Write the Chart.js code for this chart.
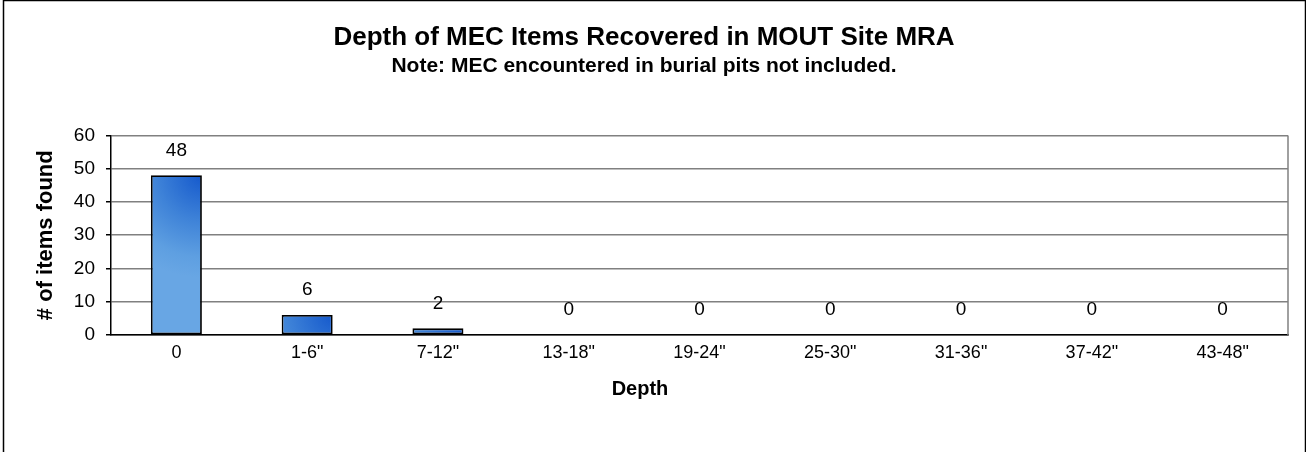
<!DOCTYPE html>
<html>
<head>
<meta charset="utf-8">
<style>
  html, body { margin: 0; padding: 0; background: #fff; }
  #wrap { position: relative; width: 1306px; height: 452px; }
</style>
</head>
<body>
<div id="wrap">
  <canvas id="myChart"></canvas>
</div>

<script src="https://cdn.jsdelivr.net/npm/chart.js"></script>
<script>
const depthLabels = ['0', '1-6"', '7-12"', '13-18"', '19-24"', '25-30"', '31-36"', '37-42"', '43-48"'];
const itemsFound = [48, 6, 2, 0, 0, 0, 0, 0, 0];
const yTicks = [0, 10, 20, 30, 40, 50, 60];

const ctx = document.getElementById('myChart');
const FONT = 'Arial, "Liberation Sans", sans-serif';
const BAR_PCT = 0.39;

// bar fill: dark blue in the upper right corner fading to light blue
function barFill(context) {
  const chart = context.chart;
  const xs = chart.scales.x;
  const ys = chart.scales.y;
  if (!chart.chartArea || !xs || !ys || context.dataIndex == null) return '#5a9be0';
  const cx = xs.getPixelForValue(context.dataIndex);
  const w = xs.width / depthLabels.length * BAR_PCT;
  const top = ys.getPixelForValue(itemsFound[context.dataIndex]);
  const g = chart.ctx.createRadialGradient(cx + w / 2, top, 0, cx + w / 2, top, w * 2);
  g.addColorStop(0, '#1559cc');
  g.addColorStop(0.45, '#3f83d8');
  g.addColorStop(0.8, '#5e9fe1');
  g.addColorStop(1, '#68a6e4');
  return g;
}

// value labels, x axis title, plot frame and outer frame
const extras = {
  id: 'extras',
  beforeDraw(chart) {
    const c = chart.ctx;
    c.save();
    c.fillStyle = '#fff';
    c.fillRect(0, 0, chart.width, chart.height);
    c.restore();
  },
  afterDatasetsDraw(chart) {
    const c = chart.ctx;
    const meta = chart.getDatasetMeta(0);
    c.save();
    c.font = '19px ' + FONT;
    c.fillStyle = '#000';
    c.textAlign = 'center';
    c.textBaseline = 'middle';
    meta.data.forEach((bar, i) => {
      c.fillText(String(itemsFound[i]), bar.x, bar.y - 25);
    });
    c.restore();
  },
  afterDraw(chart) {
    const c = chart.ctx;
    const a = chart.chartArea;
    c.save();
    c.font = 'bold 20px ' + FONT;
    c.fillStyle = '#000';
    c.textAlign = 'center';
    c.textBaseline = 'middle';
    c.fillText('Depth', 640, 389);

    c.strokeStyle = '#808080';
    c.lineWidth = 1.5;
    c.beginPath();
    c.moveTo(a.right, a.top);
    c.lineTo(a.right, a.bottom);
    c.stroke();
    c.strokeStyle = '#000';
    c.lineWidth = 1.5;
    c.beginPath();
    c.moveTo(3.5, chart.height + 2);
    c.lineTo(3.5, 0.5);
    c.lineTo(chart.width - 0.5, 0.5);
    c.lineTo(chart.width - 0.5, chart.height + 2);
    c.stroke();
    c.restore();
  }
};

new Chart(ctx, {
  type: 'bar',
  data: {
    labels: depthLabels,
    datasets: [{
      label: '# of items found',
      data: itemsFound,
      backgroundColor: barFill,
      borderColor: '#000',
      borderWidth: 1.8,
      borderSkipped: false,
      barPercentage: BAR_PCT,
      categoryPercentage: 1
    }]
  },
  options: {
    responsive: true,
    maintainAspectRatio: false,
    animation: false,
    layout: { padding: { left: 0, right: 18, top: 0, bottom: 0 } },
    plugins: {
      legend: { display: false },
      tooltip: { enabled: false },
      title: {
        display: true,
        text: 'Depth of MEC Items Recovered in MOUT Site MRA',
        color: '#000',
        font: { family: FONT, size: 26, weight: 'bold' },
        padding: { top: 22, bottom: 0 }
      },
      subtitle: {
        display: true,
        text: 'Note: MEC encountered in burial pits not included.',
        color: '#000',
        font: { family: FONT, size: 21, weight: 'bold' },
        padding: { top: 0, bottom: 57 }
      }
    },
    scales: {
      x: {
        grid: { display: false, drawTicks: false },
        border: { display: true, color: '#000', width: 1.5 },
        ticks: { color: '#000', font: { family: FONT, size: 18 }, padding: 7, maxRotation: 0, autoSkip: false },
        afterFit(scale) { scale.height = 117; }
      },
      y: {
        min: 0,
        max: 60,
        afterBuildTicks(scale) { scale.ticks = yTicks.map(v => ({ value: v })); },
        grid: { color: '#808080', lineWidth: 1.5, drawTicks: true, tickLength: 5, tickColor: '#000' },
        border: { display: true, color: '#000', width: 1.5 },
        ticks: { color: '#000', font: { family: FONT, size: 19 }, padding: 11 },
        title: {
          display: true,
          text: '# of items found',
          color: '#000',
          font: { family: FONT, size: 22, weight: 'bold' },
          padding: { top: 33, bottom: 0 }
        },
        afterFit(scale) { scale.width = 111; }
      }
    }
  },
  plugins: [extras]
});
</script>
</body>
</html>
